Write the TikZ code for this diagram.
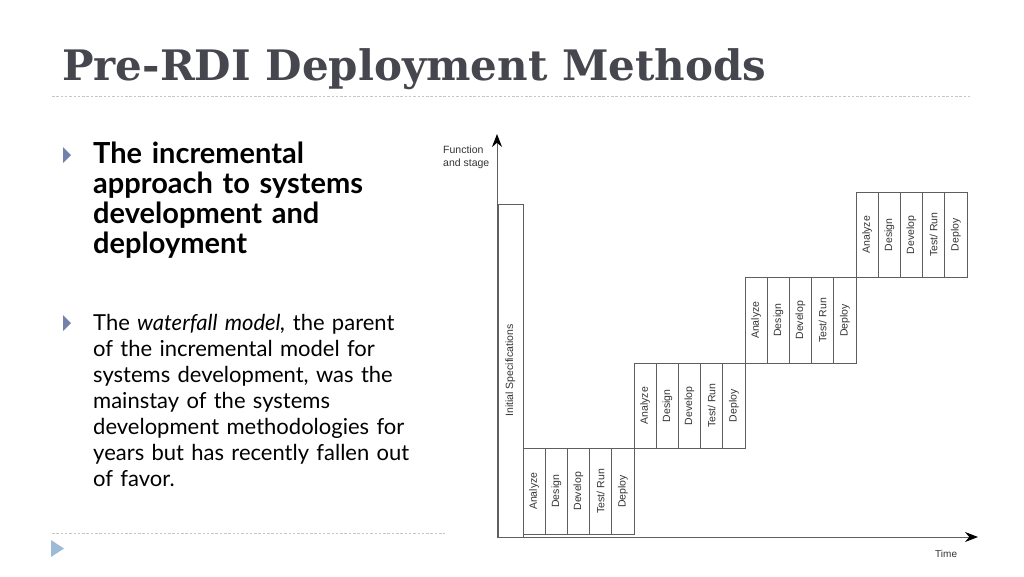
\documentclass[tikz,border=0pt]{standalone}
\usepackage{fontspec}
\setmainfont{Lato}
\newfontfamily\titlefont{DejaVu Serif}
\newfontfamily\chartfont{Liberation Sans}
\usetikzlibrary{arrows.meta,positioning}
\definecolor{titlegray}{HTML}{46464E}
\definecolor{bulletblue}{HTML}{7282AA}
\definecolor{paleblue}{HTML}{9DBAD6}
\definecolor{linegray}{HTML}{5E5E5E}
\definecolor{inkgray}{HTML}{333333}

\begin{document}
\begin{tikzpicture}[
        x=1pt, y=-1pt,
        rule/.style={draw=gray!45, dash pattern=on 2.5pt off 1.8pt, line width=0.7pt},
        col/.style={draw=linegray, line width=0.8pt, rotate=90, minimum width=85.5pt, minimum height=22.2pt, inner sep=0pt, text=inkgray, font=\chartfont\fontsize{10.5}{12}\selectfont},
        axis/.style={draw=gray!75!black, line width=1pt, -{Stealth[black,length=13pt,width=10pt]}},
        chartlabel/.style={inner sep=0pt, text=inkgray, font=\chartfont\fontsize{10.5}{12.5}\selectfont}
      ]
        \useasboundingbox (0,0) rectangle (1024,576);
        \node[anchor=base west, inner sep=0pt, text=titlegray, font=\titlefont\bfseries\fontsize{42}{50}\selectfont] (title) at (62,80) {Pre-RDI Deployment Methods};
        \draw[rule] (52,96) -- (972,96);
        \draw[rule] (52,533) -- (445,533);

        % bullets
        \fill[bulletblue] (63,147) -- (71,155) -- (63,163) -- cycle;
        \fill[bulletblue] (63,315) -- (71,323) -- (63,331) -- cycle;
        \fill[paleblue] (51,540) -- (64,548.5) -- (51,557) -- cycle;

        \node[anchor=north west, inner sep=0pt, text width=330pt, align=left, font=\bfseries\fontsize{29}{30}\selectfont] (head) at (93,141.5) {The incremental\\approach to systems\\development and\\deployment};
        \node[anchor=north west, inner sep=0pt, text width=340pt, align=left, font=\fontsize{22}{26}\selectfont] (body) at (93,314) {The \textit{waterfall model,} the parent\\of the incremental model for\\systems development, was the\\mainstay of the systems\\development methodologies for\\years but has recently fallen out\\of favor.};

        % chart
        \node[col, minimum width=333pt, minimum height=25pt] (spec) at (510.5,370.5) {Initial Specifications};
        \foreach \s in {0,...,3}{
          \foreach \lab [count=\c from 0] in {Analyze,Design,Develop,{Test/ Run},Deploy}{
            \node[col] (st\s-\c) at ({523+111*\s+22.2*(\c+0.5)}, {534-85.5*\s-42.75}) {\lab};
          }
        }
        \coordinate (origin) at (497,537);
        \coordinate (ytip) at (497,134);
        \coordinate (xtip) at (978,537);
        \draw[axis] (origin) -- (ytip);
        \draw[axis] (origin) -- (xtip);
        \node[chartlabel, anchor=north west, align=left] (func) at (443,146) {Function\\and stage};
        \node[chartlabel, anchor=base west, font=\chartfont\fontsize{10}{12}\selectfont] (time) at (935,557) {Time};
      \end{tikzpicture}
\end{document}
